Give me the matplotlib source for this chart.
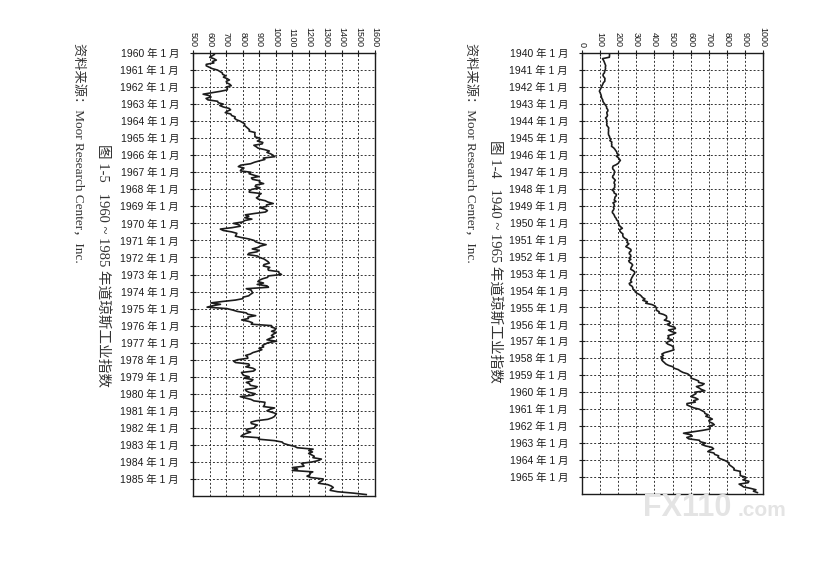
import numpy as np
import matplotlib.pyplot as plt

# -------------------------
# Data (monthly levels of the Dow Jones Industrial Average)
# -------------------------

dow_1940_1965 = [
    152, 152, 152, 151, 113, 118, 122, 125, 128, 131, 129, 130,   # 1940
    128, 125, 124, 117, 116, 121, 127, 126, 126, 118, 115, 111,   # 1941
    107, 104, 100, 96, 100, 103, 106, 107, 109, 114, 115, 119,    # 1942
    125, 130, 136, 136, 142, 143, 137, 138, 141, 138, 130, 136,   # 1943
    137, 136, 138, 136, 142, 148, 146, 147, 146, 146, 147, 152,   # 1944
    153, 160, 154, 165, 163, 165, 163, 174, 181, 186, 192, 193,   # 1945
    204, 190, 200, 206, 212, 205, 201, 189, 172, 169, 170, 177,   # 1946
    181, 178, 177, 170, 169, 177, 184, 179, 177, 182, 180, 181,   # 1947
    175, 167, 177, 177, 190, 189, 182, 181, 178, 188, 171, 177,   # 1948
    179, 173, 177, 174, 168, 168, 175, 179, 182, 189, 191, 200,   # 1949
    201, 203, 206, 214, 223, 209, 209, 216, 226, 225, 227, 235,   # 1950
    249, 252, 248, 259, 250, 242, 258, 270, 271, 262, 261, 269,   # 1951
    270, 260, 270, 258, 262, 274, 280, 275, 271, 269, 283, 292,   # 1952
    290, 284, 280, 275, 272, 268, 275, 261, 264, 276, 281, 281,   # 1953
    292, 294, 304, 319, 328, 334, 348, 336, 361, 352, 387, 404,   # 1954
    409, 412, 410, 426, 425, 451, 466, 468, 467, 455, 483, 488,   # 1955
    470, 484, 512, 516, 478, 493, 518, 502, 475, 480, 473, 500,   # 1956
    480, 465, 475, 495, 505, 504, 508, 484, 456, 441, 450, 436,   # 1957
    450, 440, 446, 455, 463, 478, 503, 508, 532, 543, 558, 584,   # 1958
    594, 604, 602, 624, 644, 644, 675, 664, 632, 647, 659, 679,   # 1959
    623, 630, 616, 601, 626, 641, 617, 626, 580, 580, 598, 616,   # 1960
    648, 662, 677, 679, 697, 684, 705, 720, 701, 704, 722, 731,   # 1961
    700, 708, 707, 665, 613, 561, 597, 609, 579, 590, 649, 652,   # 1962
    683, 662, 683, 718, 727, 707, 695, 729, 733, 755, 751, 763,   # 1963
    785, 800, 813, 811, 821, 832, 841, 839, 875, 873, 875, 874,   # 1964
    903, 904, 889, 922, 918, 868, 882, 893, 931, 961, 947, 969,   # 1965
]

dow_1960_1985 = [
    623, 630, 616, 601, 626, 641, 617, 626, 580, 580, 598, 616,   # 1960
    648, 662, 677, 679, 697, 684, 705, 720, 701, 704, 722, 731,   # 1961
    700, 708, 707, 665, 613, 561, 597, 609, 579, 590, 649, 652,   # 1962
    683, 662, 683, 718, 727, 707, 695, 729, 733, 755, 751, 763,   # 1963
    785, 800, 813, 811, 821, 832, 841, 839, 875, 873, 875, 874,   # 1964
    903, 904, 889, 922, 918, 868, 882, 893, 931, 961, 947, 969,   # 1965
    984, 995, 925, 934, 900, 870, 848, 788, 774, 808, 792, 786,   # 1966
    850, 839, 866, 897, 853, 860, 904, 901, 927, 880, 876, 905,   # 1967
    856, 841, 840, 912, 899, 898, 883, 896, 936, 953, 985, 944,   # 1968
    946, 905, 936, 950, 938, 873, 816, 837, 813, 856, 812, 800,   # 1969
    744, 778, 786, 736, 665, 683, 734, 765, 761, 756, 794, 839,   # 1970
    869, 879, 904, 942, 907, 891, 858, 898, 887, 839, 831, 890,   # 1971
    902, 928, 941, 954, 961, 929, 925, 964, 953, 956, 1018, 1020, # 1972
    1035, 955, 951, 921, 901, 892, 926, 888, 947, 956, 822, 851,  # 1973
    856, 861, 847, 837, 802, 802, 757, 679, 608, 666, 619, 585,   # 1974
    704, 739, 768, 821, 832, 879, 832, 835, 794, 836, 860, 852,   # 1975
    975, 973, 1000, 997, 975, 1003, 985, 974, 990, 965, 947, 1005,  # 1976
    954, 936, 919, 927, 899, 916, 891, 862, 847, 818, 830, 831,   # 1977
    770, 745, 757, 837, 841, 819, 862, 877, 866, 793, 799, 805,   # 1978
    839, 809, 862, 855, 822, 842, 846, 888, 878, 816, 822, 839,   # 1979
    876, 863, 786, 817, 851, 868, 935, 933, 932, 925, 993, 964,   # 1980
    947, 975, 1004, 998, 992, 977, 952, 882, 850, 853, 889, 875,  # 1981
    871, 824, 823, 848, 820, 800, 790, 901, 896, 992, 1039, 1047,  # 1982
    1076, 1113, 1130, 1226, 1200, 1222, 1199, 1216, 1233, 1225, 1276, 1259,  # 1983
    1221, 1155, 1165, 1171, 1100, 1132, 1100, 1224, 1207, 1207, 1189, 1212,  # 1984
    1287, 1284, 1267, 1258, 1315, 1336, 1348, 1334, 1329, 1374, 1472, 1547,  # 1985
]

years_1940 = list(range(1940, 1966))
years_1960 = list(range(1960, 1986))

value_ticks_1940 = list(range(0, 1001, 100))
value_ticks_1960 = list(range(500, 1601, 100))

caption_1940 = "图 1-4   1940 ~ 1965 年道琼斯工业指数"
caption_1960 = "图 1-5   1960 ~ 1985 年道琼斯工业指数"
source_text = "资料来源：Moor Research Center，Inc."

LABEL_FONT = ["Liberation Sans", "Noto Sans CJK SC"]
SERIF_FONT = ["Liberation Serif", "Noto Sans CJK SC"]

W, H = 830, 564
INK = "#1c1c1c"


def px_box(left, top, right, bottom):
    """Axes rectangle in figure fractions from pixel edges."""
    return [left / W, 1 - bottom / H, (right - left) / W, (bottom - top) / H]


def draw_panel(fig, box, values, years, ticks):
    ax = fig.add_axes(box)

    t = years[0] + np.arange(len(values)) / 12.0
    ax.plot(values, t, color=INK, linewidth=1.2)

    ax.set_xlim(ticks[0], ticks[-1])
    ax.set_ylim(years[-1] + 1, years[0])

    ax.set_yticks(years)
    ax.set_yticklabels(
        [f"{y} 年 1 月" for y in years],
        fontfamily=LABEL_FONT,
        fontsize=7.5,
        color=INK
    )

    ax.xaxis.tick_top()
    ax.set_xticks(ticks)
    ax.set_xticklabels(
        [str(v) for v in ticks],
        rotation=270,
        fontfamily=LABEL_FONT,
        fontsize=6.5,
        color=INK
    )

    ax.tick_params(axis="both", direction="inout", length=4,
                   width=0.8, color=INK)
    ax.tick_params(axis="y", pad=8)
    ax.tick_params(axis="x", pad=2)

    ax.grid(True, linestyle=(0, (2, 2)), linewidth=0.7, color="#333333")

    for s in ax.spines.values():
        s.set_linewidth(1.0)
        s.set_color(INK)

    return ax


fig = plt.figure(figsize=(W / 100, H / 100), dpi=100)
fig.patch.set_facecolor("white")

# -------------------------
# Left panel: 1960 - 1985
# -------------------------

draw_panel(fig, px_box(193, 53, 375, 496), dow_1960_1985,
           years_1960, value_ticks_1960)

fig.text(103 / W, 1 - 266 / H, caption_1960, rotation=270,
         ha="center", va="center", fontsize=10.5,
         family=SERIF_FONT, color="#333333")
fig.text(78 / W, 1 - 43 / H, source_text, rotation=270,
         ha="center", va="top", fontsize=9.5,
         family=SERIF_FONT, color="#333333")

# -------------------------
# Right panel: 1940 - 1965
# -------------------------

draw_panel(fig, px_box(582, 53, 763, 494), dow_1940_1965,
           years_1940, value_ticks_1940)

fig.text(495 / W, 1 - 261 / H, caption_1940, rotation=270,
         ha="center", va="center", fontsize=10.5,
         family=SERIF_FONT, color="#333333")
fig.text(470 / W, 1 - 43 / H, source_text, rotation=270,
         ha="center", va="top", fontsize=9.5,
         family=SERIF_FONT, color="#333333")

# watermark of the scan
fig.text(643 / W, 1 - 508 / H, "FX110", fontsize=22, fontweight="bold",
         family="Liberation Sans", color="#e4e4e4", ha="left", va="center")
fig.text(738 / W, 1 - 511 / H, ".com", fontsize=15, fontweight="bold",
         family="Liberation Sans", color="#e4e4e4", ha="left", va="center")

fig.savefig("out.png", dpi=100)
